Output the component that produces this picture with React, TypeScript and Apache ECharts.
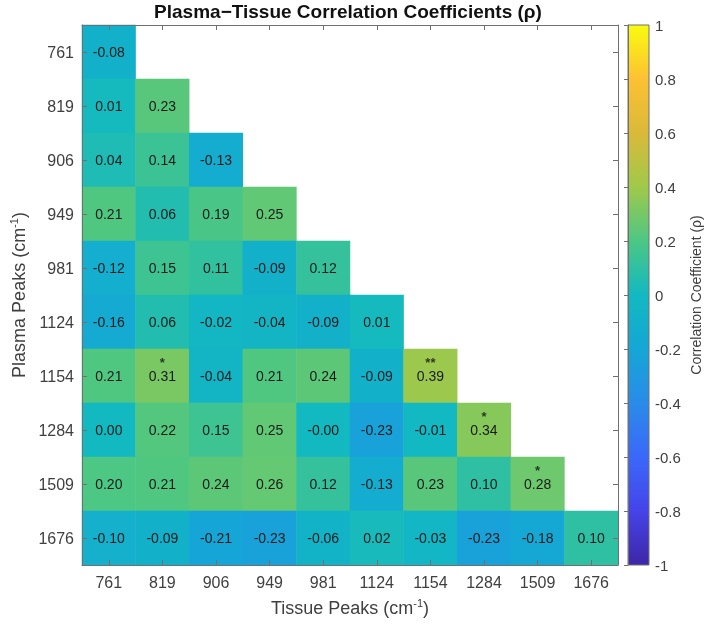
import React, { useEffect, useRef } from "react";
import * as echarts from "echarts";

const tissuePeaks = ["761", "819", "906", "949", "981", "1124", "1154", "1284", "1509", "1676"];
const plasmaPeaks = ["761", "819", "906", "949", "981", "1124", "1154", "1284", "1509", "1676"];

// lower-triangular correlation matrix (rows = plasma peaks, columns = tissue peaks)
const rhoRows: string[][] = [
  ["-0.08"],
  ["0.01", "0.23"],
  ["0.04", "0.14", "-0.13"],
  ["0.21", "0.06", "0.19", "0.25"],
  ["-0.12", "0.15", "0.11", "-0.09", "0.12"],
  ["-0.16", "0.06", "-0.02", "-0.04", "-0.09", "0.01"],
  ["0.21", "0.31", "-0.04", "0.21", "0.24", "-0.09", "0.39"],
  ["0.00", "0.22", "0.15", "0.25", "-0.00", "-0.23", "-0.01", "0.34"],
  ["0.20", "0.21", "0.24", "0.26", "0.12", "-0.13", "0.23", "0.10", "0.28"],
  ["-0.10", "-0.09", "-0.21", "-0.23", "-0.06", "0.02", "-0.03", "-0.23", "-0.18", "0.10"],
];

// significance markers
const sigPlasma = ["1154", "1154", "1284", "1509"];
const sigTissue = ["819", "1154", "1284", "1509"];
const sigMark = ["*", "**", "*", "*"];

const parula = [
  "#3e26a8",
  "#4544e8",
  "#3a68fa",
  "#2a8be9",
  "#15a6d6",
  "#12b9c1",
  "#4cc784",
  "#a0c94a",
  "#dab93a",
  "#fdc133",
  "#f9fb0e",
];

const FONT = "'Liberation Sans', Arial, Helvetica, sans-serif";
const AX = "#707070";
const TXT = "#404040";

export default function App() {
  const ref = useRef<HTMLDivElement>(null);
  useEffect(() => {
    document.body.style.margin = "0";
    const chart = echarts.init(ref.current!, undefined, { renderer: "svg" });

    const heatData: number[][] = [];
    rhoRows.forEach((row, i) => {
      row.forEach((s, j) => {
        heatData.push([j, i, parseFloat(s)]);
      });
    });
    const starData = sigPlasma.map((p, k) => [tissuePeaks.indexOf(sigTissue[k]), plasmaPeaks.indexOf(p)]);

    const gradient = new echarts.graphic.LinearGradient(
      0,
      0,
      0,
      1,
      parula.map((c, k) => ({ offset: 1 - k / (parula.length - 1), color: c })).reverse()
    );

    const axisCommon = {
      axisLine: { show: true, lineStyle: { color: AX, width: 1 } },
      axisTick: { show: true, inside: true, alignWithLabel: true, length: 5, lineStyle: { color: AX } },
      splitLine: { show: false },
      z: 5,
    };

    chart.setOption({
      animation: false,
      textStyle: { fontFamily: FONT },
      title: {
        text: "Plasma\u2212Tissue Correlation Coefficients (\u03c1)",
        left: 348,
        top: 2,
        padding: 0,
        textAlign: "center",
        textStyle: { fontFamily: FONT, fontSize: 19, fontWeight: "bold", color: "#111" },
      },
      grid: [
        { left: 78, top: 25, width: 540, height: 540 },
        {
          left: 628,
          top: 25,
          width: 21,
          height: 540,
          show: true,
          backgroundColor: gradient,
          borderColor: AX,
          borderWidth: 1,
        },
      ],
      xAxis: [
        {
          gridIndex: 0,
          type: "category",
          data: tissuePeaks,
          position: "bottom",
          ...axisCommon,
          axisLabel: { fontSize: 16, color: TXT, margin: 9, fontFamily: FONT },
          name: "Tissue Peaks (cm{sup|-1})",
          nameLocation: "middle",
          nameGap: 32,
          nameTextStyle: {
            fontSize: 18,
            color: TXT,
            fontFamily: FONT,
            rich: { sup: { fontSize: 11, color: TXT, fontFamily: FONT, padding: [0, 0, 10, 0] } },
          },
        },
        {
          gridIndex: 0,
          type: "category",
          data: tissuePeaks,
          position: "top",
          ...axisCommon,
          axisLabel: { show: false },
        },
        { gridIndex: 1, type: "value", min: 0, max: 1, show: false },
      ],
      yAxis: [
        {
          gridIndex: 0,
          type: "category",
          data: plasmaPeaks,
          inverse: true,
          position: "left",
          ...axisCommon,
          axisLabel: { fontSize: 16, color: TXT, margin: 8, fontFamily: FONT },
          name: "Plasma Peaks (cm{sup|-1})",
          nameLocation: "middle",
          nameRotate: 90,
          nameGap: 50,
          nameTextStyle: {
            fontSize: 18,
            color: TXT,
            fontFamily: FONT,
            rich: { sup: { fontSize: 11, color: TXT, fontFamily: FONT, padding: [0, 0, 10, 0] } },
          },
        },
        {
          gridIndex: 0,
          type: "category",
          data: plasmaPeaks,
          inverse: true,
          position: "right",
          ...axisCommon,
          axisLabel: { show: false },
        },
        {
          gridIndex: 1,
          type: "value",
          min: -1,
          max: 1,
          interval: 0.2,
          position: "right",
          axisLine: { show: true, lineStyle: { color: AX } },
          axisTick: { show: true, inside: true, length: 4, lineStyle: { color: AX } },
          splitLine: { show: false },
          axisLabel: { fontSize: 15, color: TXT, margin: 6, fontFamily: FONT },
          name: "Correlation Coefficient (\u03c1)",
          nameLocation: "middle",
          nameRotate: 90,
          nameGap: 40,
          nameTextStyle: { fontSize: 14, color: TXT, fontFamily: FONT },
          z: 5,
        },
      ],
      visualMap: {
        type: "continuous",
        min: -1,
        max: 1,
        show: false,
        seriesIndex: 0,
        dimension: 2,
        inRange: { color: parula },
      },
      series: [
        {
          type: "heatmap",
          xAxisIndex: 0,
          yAxisIndex: 0,
          data: heatData,
          label: {
            show: true,
            fontSize: 14,
            color: "#1a1a1a",
            fontFamily: FONT,
            formatter: (p: any) => rhoRows[p.data[1]][p.data[0]],
          },
          itemStyle: { borderWidth: 0 },
          emphasis: { disabled: true },
        },
        {
          type: "scatter",
          xAxisIndex: 0,
          yAxisIndex: 0,
          data: starData,
          symbol: "circle",
          symbolSize: 1,
          itemStyle: { color: "rgba(0,0,0,0)" },
          label: {
            show: true,
            position: "inside",
            offset: [0, -14],
            fontSize: 13,
            fontWeight: "bold",
            color: "#111",
            fontFamily: FONT,
            formatter: (p: any) => sigMark[p.dataIndex],
          },
          emphasis: { disabled: true },
          z: 6,
        },
      ],
    });
    return () => chart.dispose();
  }, []);
  return <div ref={ref} style={{ position: "fixed", left: 0, top: 0, width: 709, height: 626 }} />;
}
